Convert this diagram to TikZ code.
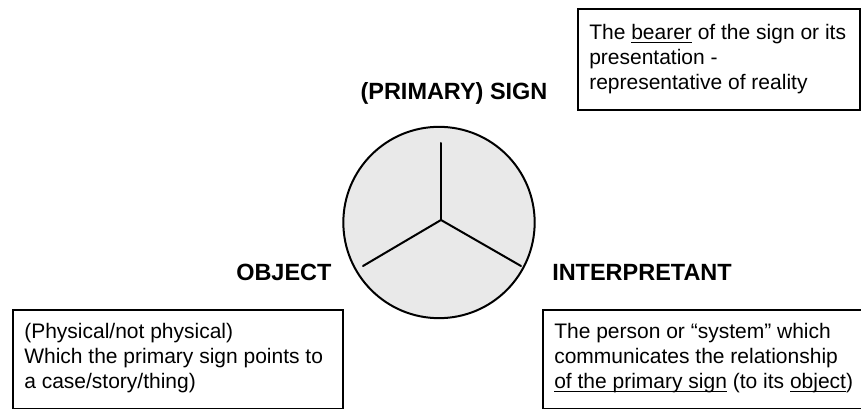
\documentclass[tikz,border=0pt]{standalone}
\usepackage{fontspec}
\setmainfont{Liberation Sans}
% underline drawn as a rule just below the baseline
\newcommand\ulword[1]{\setbox0\hbox{#1}\rlap{\rule[-2.3pt]{\wd0}{0.9pt}}#1}
\definecolor{discfill}{HTML}{E9E9E9}
\begin{document}
\begin{tikzpicture}[x=0.75pt,y=-0.75pt,
  body/.style={font=\fontsize{15.75}{18.75}\selectfont, inner sep=0pt, anchor=base west},
  heading/.style={font=\fontsize{17.6}{20}\selectfont\bfseries, inner sep=0pt},
  box/.style={draw, line width=1.6pt, rectangle, inner sep=0pt, anchor=north west},
  spoke/.style={line width=1.5pt, line cap=round}]
\useasboundingbox (0,0) rectangle (861,409);

% central disc with its three spokes
\node[circle, draw, line width=1.5pt, fill=discfill, minimum size=143.5pt, inner sep=0pt] (disc) at (439,222.5) {};
\coordinate (hub) at (441,220);
\coordinate (top) at (441,143);
\coordinate (left) at (363,266);
\coordinate (right) at (521,266);
\draw[spoke] (hub) -- (top);
\draw[spoke] (hub) -- (left);
\draw[spoke] (hub) -- (right);

% headings
\node[heading, anchor=base] (sign) at (454,100) {(PRIMARY) SIGN};
\node[heading, anchor=base west] (object) at (236,281) {OBJECT};
\node[heading, anchor=base west] (interp) at (552,281) {INTERPRETANT};

% explanation boxes
\node[box, minimum width={282*0.75pt}, minimum height={101*0.75pt}] (signbox) at (577,8) {};
\node[body] (s1) at (589,40) {The \ulword{bearer} of the sign or its};
\node[body] (s2) at (589,65) {presentation -};
\node[body] (s3) at (589,90) {representative of reality};

\node[box, minimum width={330*0.75pt}, minimum height={99*0.75pt}] (objbox) at (12,309) {};
\node[body] (o1) at (24,339) {(Physical/not physical)};
\node[body] (o2) at (24,364) {Which the primary sign points to};
\node[body] (o3) at (24,389) {a case/story/thing)};

\node[box, minimum width={335*0.75pt}, minimum height={99*0.75pt}] (intbox) at (542,309) {};
\node[body] (i1) at (554,339) {The person or “system” which};
\node[body] (i2) at (554,364) {communicates the relationship};
\node[body] (i3) at (554,389) {\ulword{of the primary sign} (to its \ulword{object})};
\end{tikzpicture}
\end{document}
